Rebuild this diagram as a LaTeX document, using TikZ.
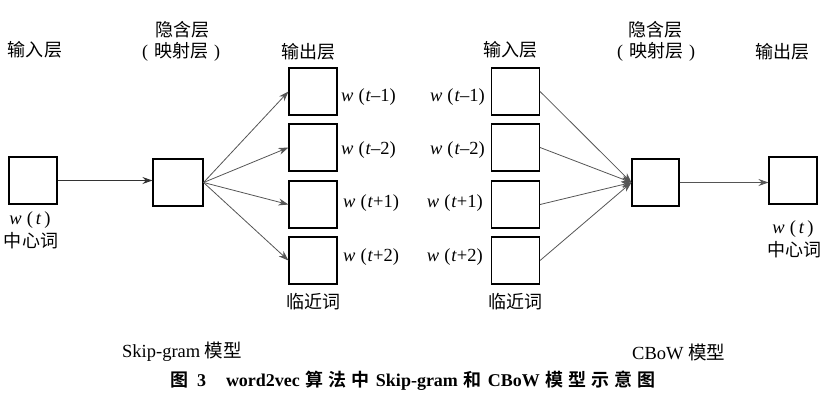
\documentclass[tikz,border=0pt]{standalone}
\usepackage{fontspec}
\setmainfont{Liberation Serif}
\newfontfamily\cjk{Noto Sans CJK SC}[BoldFont={Noto Sans CJK SC Bold}]
\usetikzlibrary{arrows.meta}
\definecolor{arr}{HTML}{555555}
\newcommand\wlab[1]{\textit{w}\hspace{5pt}(\hspace{1pt}\textit{t}#1)}
\newcommand\cs{\hspace{5pt}}
\begin{document}
\begin{tikzpicture}[x=1pt,y=-1pt,
  cell/.style={draw=black,line width=1.1pt,minimum width=48pt,minimum height=47pt,inner sep=0pt},
  lab/.style={font=\cjk\fontsize{18}{18}\selectfont,inner sep=0pt},
  wtxt/.style={font=\fontsize{18.5}{18}\selectfont,inner sep=0pt},
  conn/.style={draw=arr,line width=0.8pt,-{Stealth[length=10pt,width=7pt]}},
  mainconn/.style={draw=black!80,line width=1pt,-{Stealth[length=10pt,width=7pt]}}]
\useasboundingbox (0,0) rectangle (824,405);
% ---------- Skip-gram ----------
\node[cell] (in1) at (33,180.5) {};
\node[cell,minimum width=50pt] (hid1) at (178,182.5) {};
\node[cell] (o1) at (313,91.5) {};
\node[cell] (o2) at (313,147.5) {};
\node[cell] (o3) at (313,204.5) {};
\node[cell] (o4) at (313,260.5) {};
\node[lab] (tin1) at (35,50) {输入层};
\node[lab] (thid1a) at (182,30) {隐含层};
\node[lab] (thid1b) at (181,52) {{\rmfamily(}\hspace{6pt}映射层\hspace{6pt}{\rmfamily)}};
\node[lab] (tout1) at (308,52) {输出层};
\node[wtxt] (wt1) at (30,220) {\textit{w}\hspace{5pt}(\hspace{3pt}\textit{t}\hspace{3pt})};
\node[lab] (cw1) at (31,241) {中心词};
\node[wtxt,anchor=west] (l1) at (341,97) {\wlab{–1}};
\node[wtxt,anchor=west] (l2) at (341,150) {\wlab{–2}};
\node[wtxt,anchor=west] (l3) at (343,203) {\wlab{+1}};
\node[wtxt,anchor=west] (l4) at (343,257) {\wlab{+2}};
\node[lab] (nb1) at (313,302) {临近词};
\draw[mainconn] (in1.east) -- (in1.east -| hid1.west);
\foreach \o in {o1,o2,o3,o4} \draw[conn] (hid1.east) -- (\o.west);
% ---------- CBoW ----------
\node[cell] (r1) at (515.5,91.5) {};
\node[cell] (r2) at (515.5,147.5) {};
\node[cell] (r3) at (515.5,204.5) {};
\node[cell] (r4) at (515.5,260.5) {};
\node[cell,minimum width=47pt] (hid2) at (655.5,182.5) {};
\node[cell] (out2) at (793,180.5) {};
\node[lab] (tin2) at (510,50) {输入层};
\node[lab] (thid2a) at (655,30) {隐含层};
\node[lab] (thid2b) at (656,52) {{\rmfamily(}\hspace{6pt}映射层\hspace{6pt}{\rmfamily)}};
\node[lab] (tout2) at (782,52) {输出层};
\node[wtxt,anchor=east] (m1) at (485,97) {\wlab{–1}};
\node[wtxt,anchor=east] (m2) at (485,150) {\wlab{–2}};
\node[wtxt,anchor=east] (m3) at (483,203) {\wlab{+1}};
\node[wtxt,anchor=east] (m4) at (483,257) {\wlab{+2}};
\node[wtxt] (wt2) at (793,229) {\textit{w}\hspace{5pt}(\hspace{3pt}\textit{t}\hspace{3pt})};
\node[lab] (cw2) at (794,250) {中心词};
\node[lab] (nb2) at (515,302) {临近词};
\foreach \r in {r1,r2,r3,r4} \draw[conn] (\r.east) -- (hid2.west);
\draw[conn] (hid2.east) -- (hid2.east -| out2.west);
% ---------- captions ----------
\node[wtxt,anchor=west] (sg) at (122,352) {Skip-gram {\cjk 模型}};
\node[wtxt,anchor=west] (cb) at (632,352) {CBoW {\cjk 模型}};
\node[font=\bfseries\fontsize{18}{18}\selectfont,inner sep=0pt] (cap) at (413,381)
  {{\cjk 图}\hspace{9pt}3\hspace{20pt}word2vec\hspace{6pt}{\cjk 算\cs 法\cs 中}\hspace{6pt}Skip-gram\hspace{6pt}{\cjk 和}\hspace{6pt}CBoW\hspace{6pt}{\cjk 模\cs 型\cs 示\cs 意\cs 图}};
\end{tikzpicture}
\end{document}
